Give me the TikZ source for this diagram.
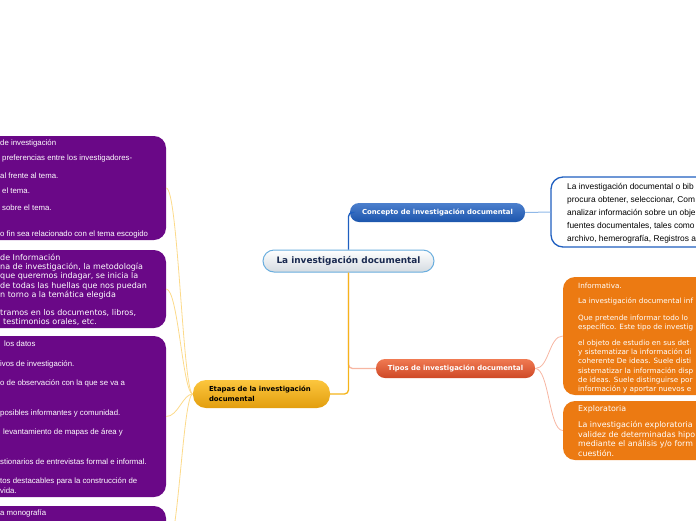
\documentclass[tikz,border=0pt]{standalone}
\usepackage{fontspec}
\setmainfont{DejaVu Sans}
\newfontfamily\arialfont{Liberation Sans}
\definecolor{purp}{RGB}{106,8,135}
\definecolor{orng}{RGB}{236,122,18}
\definecolor{concblue}{RGB}{31,95,192}
\definecolor{navy}{RGB}{26,42,80}
\definecolor{mainborder}{RGB}{106,174,222}
\definecolor{maingray}{RGB}{212,219,225}
\definecolor{salmon}{RGB}{247,182,162}
\definecolor{trunkyellow}{RGB}{245,180,26}
\definecolor{leafyellow}{RGB}{252,218,138}
\definecolor{leafblue}{RGB}{143,184,232}
\tikzset{
  topic/.style={rounded corners=9pt, inner sep=0pt, font=\bfseries\fontsize{6.9}{8}\selectfont},
  leaf/.style={rounded corners=12pt, inner sep=0pt},
  leaftext/.style={anchor=north west, inner sep=0pt, align=left, text=white},
}
\begin{document}
\begin{tikzpicture}[x=1pt,y=-1pt]
\useasboundingbox (0,0) rectangle (696,520);
\clip (0,0) rectangle (696,520);
% main topics
\node[topic, draw=mainborder, line width=1pt, top color=white, bottom color=maingray, rounded corners=11pt, minimum width=171pt, minimum height=22pt, text=navy, font=\bfseries\fontsize{8.9}{10}\selectfont] (main) at (348.5,261) {La investigación documental};
\node[topic, top color=concblue!80!white, bottom color=concblue!90!black, text=white, minimum width=175pt, minimum height=19pt] (conc) at (437.5,212.5) {Concepto de investigación documental};
\node[topic, top color={rgb,255:red,240;green,122;blue,82}, bottom color={rgb,255:red,206;green,72;blue,38}, text=white, minimum width=159pt, minimum height=19pt] (tipos) at (455.5,368.5) {Tipos de investigación documental};
\node[topic, top color={rgb,255:red,252;green,198;blue,62}, bottom color={rgb,255:red,226;green,158;blue,14}, text=black, rounded corners=13pt, minimum width=137pt, minimum height=28pt, inner xsep=16pt, text width=105pt, align=left, font=\bfseries\fontsize{6.9}{9.5}\selectfont] (etapas) at (261.5,394) {Etapas de la investigación\\documental};
\draw[concblue, line width=1.3pt, rounded corners=4pt] (main.north) |- (conc.west);
\draw[salmon, line width=1.3pt, rounded corners=4pt] (main.south) |- (tipos.west);
\draw[trunkyellow, line width=1.3pt, rounded corners=4pt] (main.south) |- (etapas.east);
% concepto
\node[leaf, draw=concblue, line width=1.3pt, fill=white, minimum width=249pt, minimum height=70pt] (concdet) at (675.5,212) {};
\node[leaftext, text=black, font=\arialfont\fontsize{8.4}{13}\selectfont] (concdettxt) at (567,183.5) {La investigación documental o bib\\procura obtener, seleccionar, Com\\analizar información sobre un obje\\fuentes documentales, tales como\\archivo, hemerografía, Registros a};
\draw[leafblue, line width=1pt] (conc.east) -- (concdet.west);
% tipos
\node[leaf, fill=orng, minimum width=237pt, minimum height=118pt] (tinf) at (681.5,336) {};
\node[leaftext, font=\fontsize{7.2}{9.2}\selectfont] (tinftxt) at (578,283) {Informativa.\\[6pt]La investigación documental inf\\[7pt]Que pretende informar todo lo\\específico. Este tipo de investig\\[7pt]el objeto de estudio en sus det\\y sistematizar la información di\\coherente De ideas. Suele disti\\sistematizar la información disp\\de ideas. Suele distinguirse por\\información y aportar nuevos e};
\node[leaf, fill=orng, minimum width=237pt, minimum height=59pt] (texp) at (681.5,430.5) {};
\node[leaftext, font=\fontsize{7.9}{9.7}\selectfont] (texptxt) at (578,405.5) {Exploratoria\\[6pt]La investigación exploratoria\\validez de determinadas hipo\\mediante el análisis y/o form\\cuestión.};
\draw[salmon, line width=0.8pt] (tipos.east) .. controls +(14,0) and +(-14,0) .. (tinf.west);
\draw[salmon, line width=0.8pt] (tipos.east) .. controls +(14,0) and +(-14,0) .. (texp.west);
% etapas
\node[leaf, fill=purp, minimum width=266pt, minimum height=104pt] (et1) at (33,188) {};
\node[leaftext, font=\arialfont\fontsize{7.8}{10}\selectfont] (et1txt) at (0,139.5) {de investigación\\[5.5pt]\hspace*{2pt}preferencias entre los investigadores-\\[7.5pt]al frente al tema.\\[5.5pt]\hspace*{2pt}el tema.\\[6.5pt]\hspace*{2pt}sobre el tema.\\[16pt]o fin sea relacionado con el tema escogido};
\node[leaf, fill=purp, minimum width=266pt, minimum height=78pt] (et2) at (33,289) {};
\node[leaftext, font=\fontsize{8}{9.3}\selectfont] (et2txt) at (0,253.5) {de Información\\na de investigación, la metodología\\que queremos indagar, se inicia la\\de todas las huellas que nos puedan\\n torno a la temática elegida\\[8.5pt]tramos en los documentos, libros,\\\hspace*{3pt}testimonios orales, etc.};
\node[leaf, fill=purp, minimum width=266pt, minimum height=161pt] (et3) at (33,416.5) {};
\node[leaftext, font=\arialfont\fontsize{7.8}{10}\selectfont] (et3txt) at (0,340.5) {\hspace*{4pt}los datos\\[10pt]ivos de investigación.\\[9pt]o de observación con la que se va a\\[20pt]posibles informantes y comunidad.\\[9pt]\hspace*{3pt}levantamiento de mapas de área y\\[20pt]stionarios de entrevistas formal e informal.\\[9pt]tos destacables para la construcción de\\vida.};
\node[leaf, fill=purp, minimum width=266pt, minimum height=94pt] (et4) at (33,553) {};
\node[leaftext, font=\arialfont\fontsize{7.8}{10}\selectfont] (et4txt) at (0,510) {a monografía};
\foreach \n in {et1,et2,et3,et4}
  \draw[leafyellow, line width=0.8pt] (etapas.west) .. controls +(-10,0) and +(12,0) .. (\n.east);
\end{tikzpicture}
\end{document}
